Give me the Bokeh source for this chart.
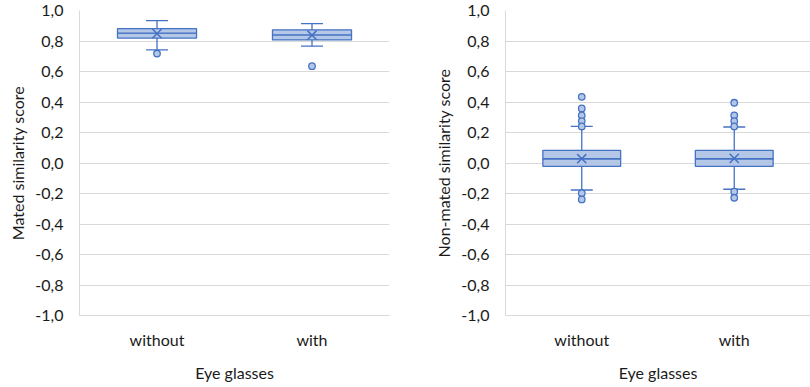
from bokeh.plotting import figure
from bokeh.layouts import row
from bokeh.models import FactorRange, FixedTicker, CustomJSTickFormatter, ColumnDataSource
from bokeh.embed import file_html
from bokeh.resources import INLINE

# Box-plot statistics per eye-glasses group
groups = ["without", "with"]

mated_lower = [0.742, 0.766]
mated_q1 = [0.819, 0.807]
mated_median = [0.851, 0.840]
mated_q3 = [0.881, 0.873]
mated_upper = [0.934, 0.914]
mated_mean = [0.848, 0.838]
mated_outliers_without = [0.718]
mated_outliers_with = [0.635]

nonmated_lower = [-0.177, -0.172]
nonmated_q1 = [-0.022, -0.022]
nonmated_median = [0.028, 0.028]
nonmated_q3 = [0.083, 0.083]
nonmated_upper = [0.240, 0.236]
nonmated_mean = [0.028, 0.030]
nonmated_outliers_without = [0.434, 0.358, 0.312, 0.275, 0.240, -0.198, -0.239]
nonmated_outliers_with = [0.395, 0.312, 0.275, 0.240, -0.188, -0.228]

y_ticks = [-1.0, -0.8, -0.6, -0.4, -0.2, 0.0, 0.2, 0.4, 0.6, 0.8, 1.0]

EDGE = "#4472c4"
FILL = "#b4c7e7"
GRID = "#d9d9d9"
TEXT = "#1a1a1a"
FONT = "Lato"


def box_panel(ylabel, lower, q1, med, q3, upper, mean, out_without, out_with,
              width, border_left, border_right):
    p = figure(x_range=FactorRange(*groups), y_range=(-1.0, 1.0),
               width=width, height=387, output_backend="svg",
               toolbar_location=None,
               min_border_left=border_left, min_border_right=border_right,
               min_border_top=10, min_border_bottom=72)
    p.outline_line_color = None
    p.xgrid.grid_line_color = None
    p.ygrid.grid_line_color = GRID
    p.ygrid.ticker = FixedTicker(ticks=y_ticks)

    src = ColumnDataSource(dict(g=groups, lower=lower, q1=q1, med=med,
                                q3=q3, upper=upper, mean=mean))

    # whiskers
    p.segment(x0="g", y0="q3", x1="g", y1="upper", source=src,
              line_color=EDGE, line_width=1.3)
    p.segment(x0="g", y0="lower", x1="g", y1="q1", source=src,
              line_color=EDGE, line_width=1.3)
    p.scatter(x="g", y="upper", source=src, marker="dash", size=22,
              line_color=EDGE, line_width=1.3)
    p.scatter(x="g", y="lower", source=src, marker="dash", size=22,
              line_color=EDGE, line_width=1.3)

    # box split at the median
    p.vbar(x="g", bottom="q1", top="med", width=0.51, source=src,
           fill_color=FILL, line_color=EDGE, line_width=1.3)
    p.vbar(x="g", bottom="med", top="q3", width=0.51, source=src,
           fill_color=FILL, line_color=EDGE, line_width=1.3)

    # mean marker
    p.scatter(x="g", y="mean", source=src, marker="x", size=13,
              line_color=EDGE, line_width=1.5)

    # outliers
    ox = ["without"] * len(out_without) + ["with"] * len(out_with)
    oy = list(out_without) + list(out_with)
    p.scatter(x=ox, y=oy, marker="circle", size=6.5,
              fill_color=FILL, line_color=EDGE, line_width=1.3)

    # axes
    p.yaxis.ticker = FixedTicker(ticks=y_ticks)
    p.yaxis.formatter = CustomJSTickFormatter(
        code="return tick.toFixed(1).replace('.', ',');")
    p.yaxis.axis_label = ylabel
    for ax in (p.xaxis[0], p.yaxis[0]):
        ax.axis_line_color = GRID
        ax.major_tick_line_color = None
        ax.minor_tick_line_color = None
        ax.major_label_text_font = FONT
        ax.major_label_text_font_size = "16px"
        ax.major_label_text_color = TEXT
        ax.axis_label_text_font = FONT
        ax.axis_label_text_font_size = "16px"
        ax.axis_label_text_font_style = "normal"
        ax.axis_label_text_color = TEXT
    p.yaxis.major_label_standoff = 10
    p.yaxis.axis_label_standoff = 5
    p.xaxis.axis_label = "Eye glasses"
    p.xaxis.major_label_standoff = 8
    p.xaxis.axis_label_standoff = 11
    return p


left = box_panel("Mated similarity score", mated_lower, mated_q1, mated_median,
                 mated_q3, mated_upper, mated_mean,
                 mated_outliers_without, mated_outliers_with,
                 width=405, border_left=79, border_right=16)
right = box_panel("Non-mated similarity score", nonmated_lower, nonmated_q1,
                  nonmated_median, nonmated_q3, nonmated_upper, nonmated_mean,
                  nonmated_outliers_without, nonmated_outliers_with,
                  width=405, border_left=100, border_right=0)

layout = row(left, right)
open("out.html", "w").write(file_html(layout, INLINE))
